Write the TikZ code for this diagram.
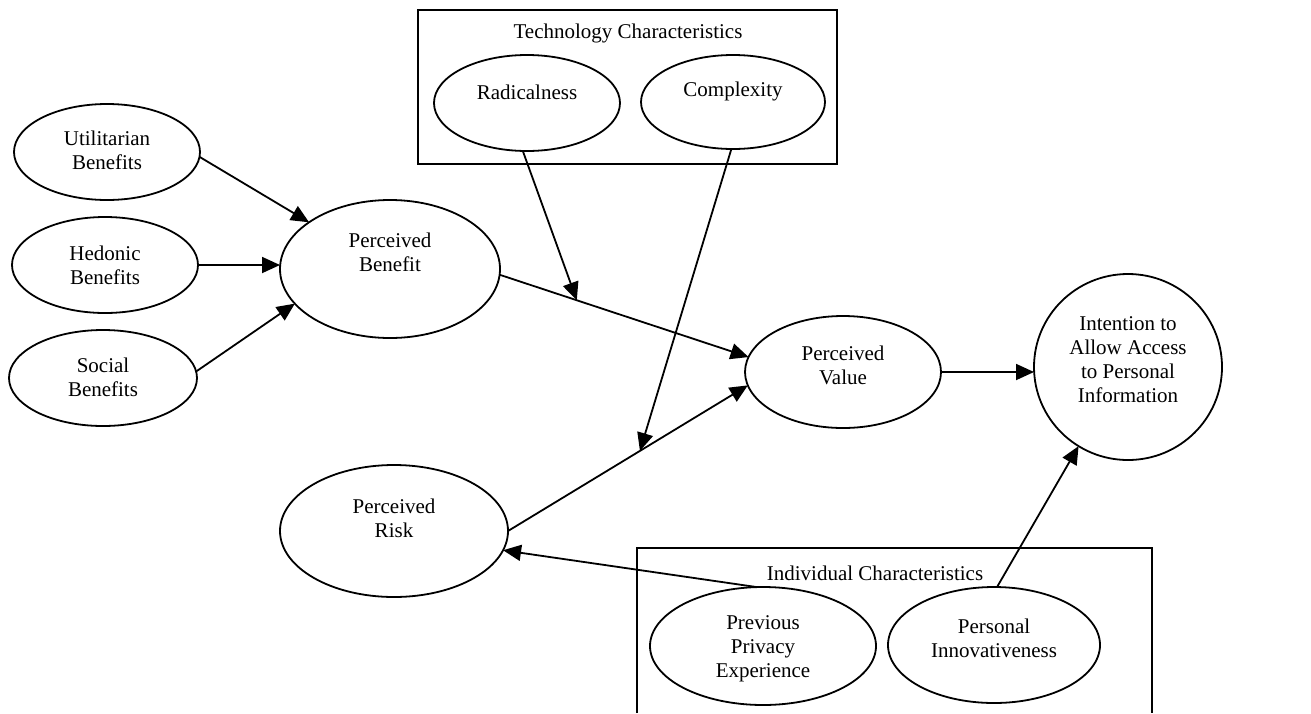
\documentclass[tikz,border=0pt]{standalone}
\usepackage{fontspec}
\setmainfont{Liberation Serif}
\usetikzlibrary{shapes.geometric,arrows.meta,calc}
\begin{document}
\begin{tikzpicture}[x=0.5pt,y=-0.5pt,
  el/.style={ellipse,draw,line width=0.9pt,inner sep=0pt,outer sep=0pt},
  lbl/.style={align=center,font=\fontsize{10.5}{12}\selectfont,inner sep=0pt},
  arr/.style={line width=0.9pt,-{Triangle[length=9pt,width=8pt]}},
  frame/.style={draw,line width=0.9pt}]
\useasboundingbox (0,0) rectangle (1311,713);
% group frames
\draw[frame] (418,10) rectangle (837,164);
\node[lbl] (techt) at (628,33) {Technology Characteristics};
\draw[frame] (637,713) -- (637,548) -- (1152,548) -- (1152,713);
\node[lbl] (indt) at (875,573) {Individual Characteristics};
% ellipses
\node[el,minimum width=93pt,minimum height=48pt] (ut) at (107,152) {};
\node[el,minimum width=93pt,minimum height=48pt] (he) at (105,265) {};
\node[el,minimum width=94pt,minimum height=48pt] (so) at (103,378) {};
\node[el,minimum width=110pt,minimum height=69pt] (pb) at (390,269) {};
\node[el,minimum width=93pt,minimum height=48pt] (rad) at (527,103) {};
\node[el,minimum width=92pt,minimum height=47pt] (com) at (733,102) {};
\node[el,minimum width=98pt,minimum height=56pt] (pv) at (843,372) {};
\node[el,minimum width=94pt,minimum height=93pt] (int) at (1128,367) {};
\node[el,minimum width=114pt,minimum height=66pt] (pr) at (394,531) {};
\node[el,minimum width=113pt,minimum height=59pt] (ppe) at (763,646) {};
\node[el,minimum width=106pt,minimum height=58pt] (pi) at (994,645) {};
% labels
\node[lbl] (utl) at (107,150) {Utilitarian\\Benefits};
\node[lbl] (hel) at (105,265) {Hedonic\\Benefits};
\node[lbl] (sol) at (103,377) {Social\\Benefits};
\node[lbl] (pbl) at (390,252) {Perceived\\Benefit};
\node[lbl] (radl) at (527,92) {Radicalness};
\node[lbl] (coml) at (733,91) {Complexity};
\node[lbl] (pvl) at (843,365) {Perceived\\Value};
\node[lbl] (intl) at (1128,360) {Intention to\\Allow Access\\to Personal\\Information};
\node[lbl] (prl) at (394,518) {Perceived\\Risk};
\node[lbl] (ppel) at (763,649) {Previous\\Privacy\\Experience};
\node[lbl] (pil) at (994,638) {Personal\\Innovativeness};
% connectors
\draw[arr] (ut.-3) -- (pb.150);
\draw[arr] (he.east) -- (he.east -| pb.west);
\draw[arr] (so.4) -- (pb.-160);
\draw[arr] (pb.-3) -- (pv.171);
\draw[arr] (pr.0) -- (pv.-172);
\draw[arr] (pv.east) -- (pv.east -| int.west);
\draw[arr] (ppe.96) -- (pr.-10);
\draw[arr] (pi.87) -- (int.-122);
\coordinate (m1) at ($(pb.-3)!0.31!(pv.171)$);
\coordinate (m2) at ($(pr.0)!0.55!(pv.-172)$);
\draw[arr] (rad.-95) -- (m1);
\draw[arr] (com.-92) -- (m2);
\end{tikzpicture}
\end{document}
